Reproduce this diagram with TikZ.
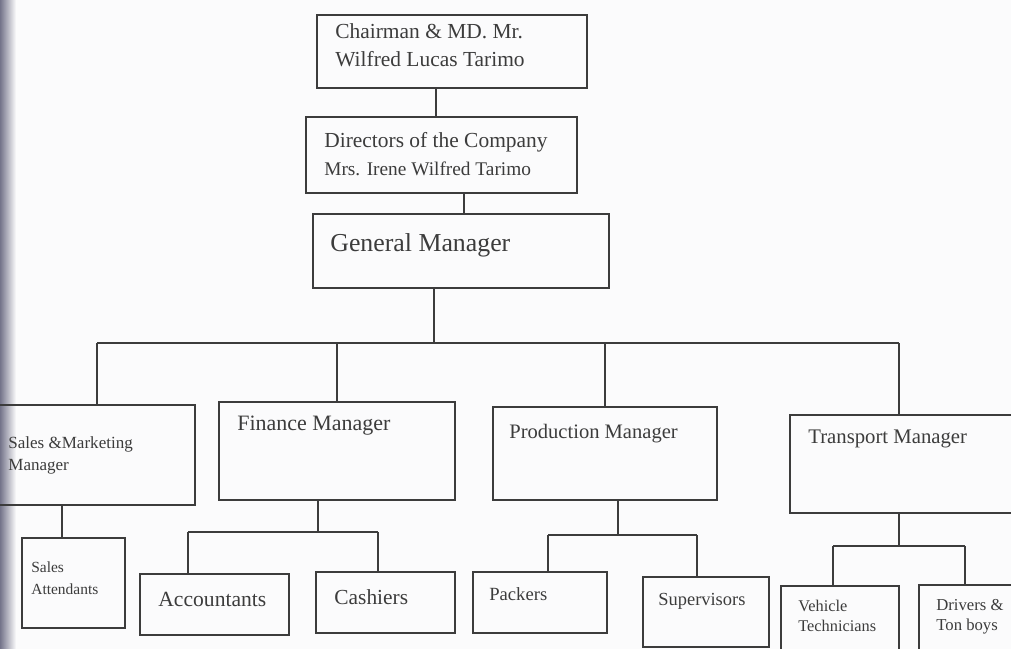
\documentclass[tikz,border=0pt]{standalone}
\usepackage{fontspec}
\setmainfont{Liberation Serif}
\newlength\pxu
\setlength\pxu{0.02cm}
\definecolor{ink}{HTML}{3C3C3C}
\definecolor{paper}{HTML}{FBFBFC}
\definecolor{edgeshade}{HTML}{74748A}
\newcommand{\fs}[2]{\fontsize{#1}{#2}\selectfont}

\begin{document}
\begin{tikzpicture}[x=0.02cm, y=-0.02cm,
    box/.style={draw=ink, line width=0.8pt, rectangle, inner sep=0pt},
    lbl/.style={inner sep=0pt, align=left, text=ink},
    link/.style={draw=ink, line width=0.8pt}]

  \useasboundingbox (0,0) rectangle (1011,649);
  \clip (0,0) rectangle (1011,649);
  \fill[paper] (0,0) rectangle (1011,649);
  \shade[left color=edgeshade, right color=paper] (0,0) rectangle (16,649);

  % boxes
  \node[box, minimum width=270*\pxu, minimum height=73*\pxu] (chair) at (452,51.5) {};
  \node[box, minimum width=271*\pxu, minimum height=76*\pxu] (dir)   at (441.5,155) {};
  \node[box, minimum width=296*\pxu, minimum height=74*\pxu] (gm)    at (461,251) {};
  \node[box, minimum width=215*\pxu, minimum height=100*\pxu] (sales) at (87.5,455) {};
  \node[box, minimum width=236*\pxu, minimum height=98*\pxu] (fin)   at (337,451) {};
  \node[box, minimum width=224*\pxu, minimum height=93*\pxu] (prod)  at (605,453.5) {};
  \node[box, minimum width=240*\pxu, minimum height=98*\pxu] (trans) at (910,464) {};
  \node[box, minimum width=103*\pxu, minimum height=90*\pxu] (att)   at (73.5,583) {};
  \node[box, minimum width=149*\pxu, minimum height=61*\pxu] (acc)   at (214.5,604.5) {};
  \node[box, minimum width=139*\pxu, minimum height=61*\pxu] (cash)  at (385.5,602.5) {};
  \node[box, minimum width=134*\pxu, minimum height=61*\pxu] (pack)  at (540,602.5) {};
  \node[box, minimum width=126*\pxu, minimum height=70*\pxu] (sup)   at (706,612) {};
  \node[box, minimum width=118*\pxu, minimum height=79*\pxu] (veh)   at (840,625.5) {};
  \node[box, minimum width=111*\pxu, minimum height=80*\pxu] (drv)   at (974.5,625) {};

  % labels
  \node[lbl, anchor=north west, font=\fs{12.2}{16}] (chairT) at (335,23.5)
    {Chairman \& MD. Mr.\\Wilfred Lucas Tarimo};
  \node[lbl, anchor=north west, font=\fs{12.2}{15.5}] (dirT) at (324,132.5)
    {Directors of the Company\\{\fs{11}{15.5}Mrs. Irene Wilfred Tarimo}};
  \node[lbl, anchor=base west, font=\fs{14.7}{18}] (gmT) at (330,251) {General Manager};
  \node[lbl, anchor=north west, font=\fs{9.7}{12.5}] (salesT) at (8,436.5)
    {Sales \&Marketing\\Manager};
  \node[lbl, anchor=base west, font=\fs{12.5}{15}] (finT) at (237,430) {Finance Manager};
  \node[lbl, anchor=base west, font=\fs{11.7}{14}] (prodT) at (509,438) {Production Manager};
  \node[lbl, anchor=base west, font=\fs{11.8}{14}] (transT) at (808,443) {Transport Manager};
  \node[lbl, anchor=north west, font=\fs{8.8}{12.5}] (attT) at (31,561.5) {Sales\\Attendants};
  \node[lbl, anchor=base west, font=\fs{12.3}{15}] (accT) at (158,606) {Accountants};
  \node[lbl, anchor=base west, font=\fs{12.2}{15}] (cashT) at (334,604) {Cashiers};
  \node[lbl, anchor=base west, font=\fs{10.6}{13}] (packT) at (489,600) {Packers};
  \node[lbl, anchor=base west, font=\fs{10.5}{13}] (supT) at (658,605) {Supervisors};
  \node[lbl, anchor=north west, font=\fs{9.3}{11.4}] (vehT) at (798,600) {Vehicle\\Technicians};
  \node[lbl, anchor=north west, font=\fs{9.5}{11.4}] (drvT) at (936,599.5) {Drivers \&\\Ton boys};

  % trunk
  \coordinate (t1) at (436,0);
  \coordinate (t2) at (464,0);
  \coordinate (t3) at (434,0);
  \coordinate (busL) at (97,343);
  \coordinate (busR) at (899,343);
  \draw[link] (chair.south -| t1) -- (dir.north -| t1);
  \draw[link] (dir.south -| t2) -- (gm.north -| t2);
  \draw[link] (gm.south -| t3) -- (busL -| t3);

  % main bus
  \draw[link] (busL) -- (busR);
  \draw[link] (busL) -- (busL |- sales.north);
  \draw[link] (busL -| fin.north) -- (fin.north);
  \draw[link] (busL -| prod.north) -- (prod.north);
  \draw[link] (busR) -- (busR |- trans.north);

  % sales
  \coordinate (s1) at (62,0);
  \draw[link] (sales.south -| s1) -- (att.north -| s1);

  % finance
  \coordinate (finM) at (318,532);
  \coordinate (finL) at (188,532);
  \coordinate (finR) at (378,532);
  \draw[link] (fin.south -| finM) -- (finM);
  \draw[link] (finL) -- (finR);
  \draw[link] (finL) -- (finL |- acc.north);
  \draw[link] (finR) -- (finR |- cash.north);

  % production
  \coordinate (prodM) at (618,535);
  \coordinate (prodL) at (548,535);
  \coordinate (prodR) at (697,535);
  \draw[link] (prod.south -| prodM) -- (prodM);
  \draw[link] (prodL) -- (prodR);
  \draw[link] (prodL) -- (prodL |- pack.north);
  \draw[link] (prodR) -- (prodR |- sup.north);

  % transport
  \coordinate (transM) at (899,546);
  \coordinate (transL) at (833,546);
  \coordinate (transR) at (965,546);
  \draw[link] (trans.south -| transM) -- (transM);
  \draw[link] (transL) -- (transR);
  \draw[link] (transL) -- (transL |- veh.north);
  \draw[link] (transR) -- (transR |- drv.north);
\end{tikzpicture}
\end{document}
